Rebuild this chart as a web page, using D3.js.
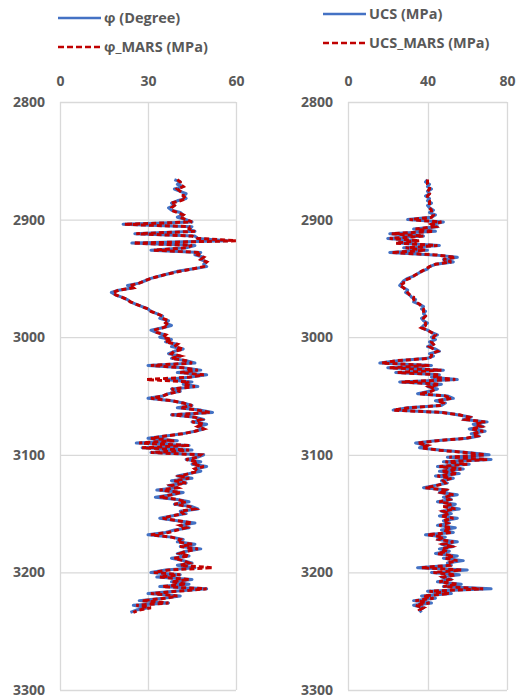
<!DOCTYPE html>
<html>
<head>
<meta charset="utf-8">
<script src="https://cdn.jsdelivr.net/npm/d3@7"></script>
<style>
  body { margin: 0; background: #fff; }
  text { font-family: "Open Sans", "Liberation Sans", sans-serif; font-weight: bold; fill: #595959; }
</style>
</head>
<body>
<div id="output"></div>
<script>
// Depth samples (m), every 2 m from 2866 to 3234
const depth = d3.range(2866, 3235, 2);

// Friction angle (degree), measured, 10 samples per row starting at 2866
const phi = [
  39,41,40,42,39,41,43,42,43,40,
  38,39,37,38,41,42,40,43,45,21.5,
  45,44,46,25.5,46,47,57,24.5,46,43,
  31,48,46,49,48,50,49,50,45,40,
  37,34,31,29,27,23,25,20,17.5,19,
  21,23,24,26,28,30,31,33,35,34,
  37,36,38,35,31,33,36,34,38,36,
  40,38,42,39,37,41,38,43,46,30,
  42,48,40,50,44,36,45,42,47,38,
  41,37,35,30,38,42,45,40,48,52,
  38,46,49,45,50,47,49,46,42,36,
  30,40,26,44,28,45,31,49,47,43,
  48,45,50,46,48,44,40,45,38,43,
  37,40,33,42,38,32.5,40,44,39,45,
  47,41,43,38,34,40,46,41,44,39,
  36,30,38,42,40,46,41,48,43,40,
  44,38,42,45,40,46,36,31,41,33,
  45,38,44,34,50,39,30,41,35,27,
  37,25,30,26,24
];

// Friction angle predicted by MARS
const phiMars = [
  40,41,41,42,40,41,42,42,43,41,
  38,39,38,38,40,42,41,43,45,22,
  44,44,46,26,45,47,60,25,45,43,
  32,48,47,49,48,50,49,49,45,41,
  37,34,31,29,27,24,25,20,18,19,
  21,23,24,26,28,30,31,33,35,35,
  37,36,37,35,32,33,36,35,38,36,
  40,39,42,39,38,41,38,43,45,31,
  42,47,41,49,44,29.5,44,42,46,38,
  41,37,35,31,38,42,45,41,47,51,
  38,46,48,45,49,47,49,46,42,36,
  31,39,27,44,28,44,31,48,47,43,
  47,45,49,46,47,44,41,44,39,43,
  38,40,34,41,38,34,40,43,39,44,
  46,41,42,38,35,40,45,41,43,40,
  37,31,38,41,40,45,41,47,43,41,
  44,39,42,44,41,52,37,32,41,34,
  44,38,43,35,50,40,31,40,36,28,
  37,26,31,27,25
];

// UCS (MPa), measured
const ucs = [
  40,39,41,40,42,40,41,39,41,40,
  42,40,41,43,41,44,42,30,48,42,
  45,33,44,21,38,20,35,25,46,28,
  40,21,43,55,48,53,44,41,40,37,
  35,33,30,28,27,26,28,30,29,31,
  32,34,33,36,38,37,39,38,39,37,
  38,40,38,37,40,42,45,42,44,41,
  43,40,44,46,41,43,40,25,16,42,
  20,48,24,46,42,55,26,47,40,45,
  41,35,50,53,44,49,47,30,22.7,48,
  55,62,58,70,63,68,61,69,62,66,
  60,44,34,40,36,46,60,71,50,72,
  48,61,45,58,46,56,44,53,47,50,
  44,38,50,46,55,48,52,45,54,49,
  56,47,52,46,55,48,51,45,54,47,
  53,39,49,45,55,47,53,46,51,44,
  55,48,58,50,52,35,60,42,56,47,
  52,45,57,48,72,40,52,37,44,33,
  42,33,38,36,37
];

// UCS predicted by MARS
const ucsMars = [
  40,40,40,41,41,40,41,40,40,41,
  41,41,41,42,42,43,42,31,47,42,
  44,34,43,22,38,21,36,24,45,29,
  39,22,44,54,48,52,44,41,39,37,
  35,33,31,28,28,26,28,29,30,31,
  33,33,34,36,37,38,38,38,39,38,
  38,39,39,37,40,42,44,43,43,42,
  43,41,43,45,42,42,41,24,17,41,
  21,47,25,46,43,54,27,46,41,44,
  42,36,49,52,45,48,47,31,23,47,
  56,61,59,69,64,67,62,68,63,65,
  59,45,35,40,37,45,59,69,51,70,
  49,60,46,57,47,55,45,52,48,49,
  45,39,49,47,53,49,51,46,52,48,
  54,48,51,47,53,48,50,46,52,48,
  52,40,48,46,53,48,52,47,50,45,
  53,49,55,50,51,37,57,43,54,48,
  51,46,55,48,68,41,51,38,43,34,
  41,34,38,36,37
];

const depthTicks = [2800, 2900, 3000, 3100, 3200, 3300];

const panels = [
  { left: 60, right: 236, max: 60, ticks: [0, 30, 60], meas: phi, pred: phiMars,
    names: ["φ (Degree)", "φ_MARS (MPa)"], legX: 58, legY: [18, 47] },
  { left: 348, right: 507, max: 80, ticks: [0, 40, 80], meas: ucs, pred: ucsMars,
    names: ["UCS (MPa)", "UCS_MARS (MPa)"], legX: 323, legY: [14, 43] }
];

const W = 518, H = 700;
const plotTop = 102, plotBottom = 690;
const blue = "#4472c4", red = "#c00000", grid = "#d9d9d9";

const svg = d3.select("#output").append("svg")
  .attr("width", W)
  .attr("height", H)
  .style("display", "block");

svg.append("rect").attr("width", W).attr("height", H).attr("fill", "#fff");

const y = d3.scaleLinear().domain([2800, 3300]).range([plotTop, plotBottom]);

panels.forEach(p => {
  const x = d3.scaleLinear().domain([0, p.max]).range([p.left, p.right]);
  const g = svg.append("g");

  // Grid lines
  g.selectAll(".hgrid").data(depthTicks).enter().append("line")
    .attr("x1", p.left).attr("x2", p.right)
    .attr("y1", d => y(d) + 0.5).attr("y2", d => y(d) + 0.5)
    .attr("stroke", grid).attr("stroke-width", 1.3);
  g.selectAll(".vgrid").data(p.ticks).enter().append("line")
    .attr("x1", d => Math.round(x(d)) + 0.5).attr("x2", d => Math.round(x(d)) + 0.5)
    .attr("y1", plotTop).attr("y2", plotBottom)
    .attr("stroke", grid).attr("stroke-width", 1.3);

  // Top axis labels
  const xAxis = g.append("g")
    .attr("transform", `translate(0,${plotTop - 16})`)
    .call(d3.axisTop(x).tickValues(p.ticks).tickSize(0).tickPadding(0));
  xAxis.select(".domain").remove();
  xAxis.selectAll("text").attr("font-size", 14).attr("fill", "#595959")
    .style("font-family", null);

  // Depth labels
  const yAxis = g.append("g")
    .attr("transform", `translate(${p.left - 15},0)`)
    .call(d3.axisLeft(y).tickValues(depthTicks).tickFormat(d3.format("d")).tickSize(0).tickPadding(0));
  yAxis.select(".domain").remove();
  yAxis.selectAll("text").attr("font-size", 14).attr("fill", "#595959")
    .style("font-family", null);

  // Curves
  const line = vals => d3.line()
    .x((d, i) => x(vals[i]))
    .y(d => y(d))(depth);

  g.append("path")
    .attr("d", line(p.meas))
    .attr("fill", "none")
    .attr("stroke", blue)
    .attr("stroke-width", 3)
    .attr("stroke-linejoin", "round");

  g.append("path")
    .attr("d", line(p.pred))
    .attr("fill", "none")
    .attr("stroke", red)
    .attr("stroke-width", 3)
    .attr("stroke-dasharray", "5,3");

  // Legend
  const leg = svg.append("g");
  [blue, red].forEach((c, i) => {
    leg.append("line")
      .attr("x1", p.legX).attr("x2", p.legX + 43)
      .attr("y1", p.legY[i]).attr("y2", p.legY[i])
      .attr("stroke", c).attr("stroke-width", 2.5)
      .attr("stroke-dasharray", i === 1 ? "6,3" : null);
    leg.append("text")
      .attr("x", p.legX + 46).attr("y", p.legY[i])
      .attr("dy", "0.35em")
      .attr("font-size", 14.5)
      .text(p.names[i]);
  });
});
</script>
</body>
</html>
